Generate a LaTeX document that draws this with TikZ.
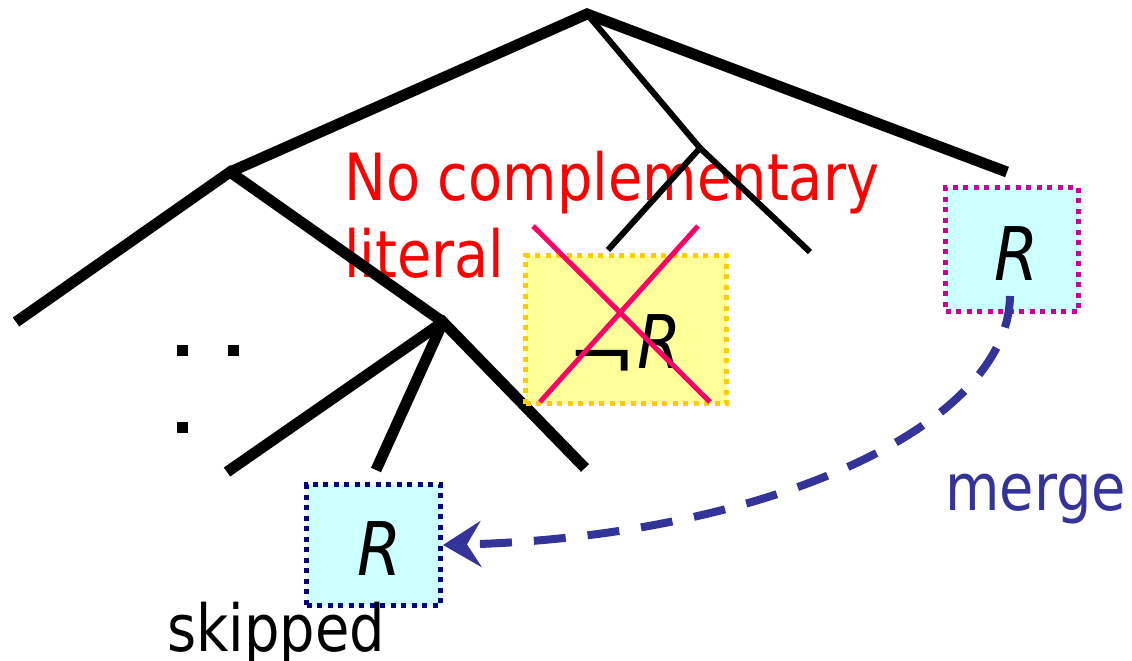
\documentclass[tikz,border=0pt]{standalone}
\usepackage{graphicx}
\usepackage{fontspec}
\setmainfont{DejaVu Sans}[FakeStretch=0.86]
\usetikzlibrary{arrows.meta}
\definecolor{crossred}{HTML}{FF0066}
\definecolor{boxyellow}{HTML}{FFFF99}
\definecolor{boxgold}{HTML}{FFCC00}
\definecolor{boxcyan}{HTML}{CCFFFF}
\definecolor{navyedge}{HTML}{000080}
\definecolor{magentaedge}{HTML}{CC0099}
\definecolor{mergeblue}{HTML}{333399}
\tikzset{
  thickbranch/.style={line width=11pt},
  thinbranch/.style={line width=6pt},
  litbox/.style={line width=5pt, dash pattern=on 5pt off 5.5pt, inner sep=0pt, anchor=center},
  lit/.style={font=\fontsize{74}{74}\selectfont\itshape, inner sep=0pt, anchor=base},
  label/.style={font=\fontsize{65}{77}\selectfont, align=left, anchor=base west, inner sep=0pt},
}
\begin{document}
\begin{tikzpicture}[x=1pt,y=-1pt]
\useasboundingbox (0,0) rectangle (1132,661);
% annotation behind the tree
\node[label, text=red] (nocomp) at (344,277) {No complementary\\literal};
% tree vertices
\coordinate (root) at (587,14);
\coordinate (l1) at (230,172);
\coordinate (r1) at (1007,172);
\coordinate (m1) at (700,148);
\coordinate (m1a) at (608,250);
\coordinate (m1b) at (810,252);
\coordinate (l2) at (16,322);
\coordinate (l3) at (443,322);
\coordinate (l3a) at (227,472);
\coordinate (l3b) at (376,470);
\coordinate (l3c) at (585,468);
% branches
\draw[thickbranch] (l1) -- (root) -- (r1);
\draw[thinbranch] (root) -- (m1);
\draw[thinbranch] (m1a) -- (m1) -- (m1b);
\draw[thickbranch] (l2) -- (l1) -- (l3);
\draw[thickbranch] (l3a) -- (l3) -- (l3c);
\draw[thickbranch] (l3) -- (l3b);
% elided subtree dots
\fill (176.5,344.5) rectangle ++(11,11) coordinate (dot1);
\fill (227.5,344.5) rectangle ++(11,11) coordinate (dot2);
\fill (176.5,421.5) rectangle ++(11,11) coordinate (dot3);
% literal boxes
\node[litbox, draw=boxgold, fill=boxyellow, minimum width=201pt, minimum height=148pt] (neg) at (626,329.5) {};
\node[lit, anchor=base west] (negR) at (567,368) {\raisebox{-13pt}{\scalebox{1.3}[1]{¬}}\kern1pt R};
\node[litbox, draw=navyedge, fill=boxcyan, minimum width=134pt, minimum height=121pt] (skip) at (373.5,545) {};
\node[lit] (skipR) at (380,575) {R};
\node[litbox, draw=magentaedge, fill=boxcyan, minimum width=133pt, minimum height=124pt] (keep) at (1012,249.5) {};
\node[lit] (keepR) at (1017,280) {R};
% cross-out
\coordinate (x1) at (533,226);
\coordinate (x2) at (710,402);
\coordinate (x3) at (698,226);
\coordinate (x4) at (540,402);
\draw[crossred, line width=5pt] (x1) -- (x2) (x3) -- (x4);
% merge arrow
\coordinate (mstart) at (1010,296);
\draw[mergeblue, line width=8pt, dash pattern=on 32pt off 22pt,
      -{Stealth[length=38pt, width=46pt, inset=14pt]}]
  (mstart) .. controls (1008,430) and (757,537) .. (skip.east);
% labels
\node[label, text=mergeblue] (merge) at (945,510) {merge};
\node[label] (skipped) at (167,651) {skipped};
\end{tikzpicture}
\end{document}
